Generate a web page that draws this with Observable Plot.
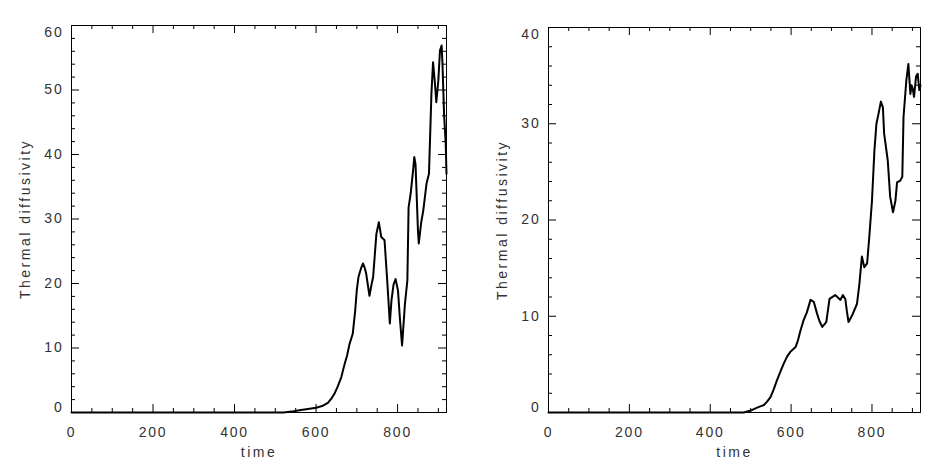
<!DOCTYPE html>
<html><head><meta charset="utf-8">
<script src="https://cdn.jsdelivr.net/npm/d3@7"></script>
<script src="https://cdn.jsdelivr.net/npm/@observablehq/plot@0.6"></script>
<style>
body{margin:0;background:#fff;}
#wrap{display:flex;width:947px;height:475px;}
</style></head><body><div id="wrap"></div>
<script>
const timeA = [0,520,545,563,580,600,615,629,637,645,653,662,670,676,682,690,696,700,704,710,715,719,723,731,736,740,748,754,760,768,775,781,785,790,795,801,806,811,818,824,827,832,838,841,844,850,852,858,863,871,877,883,887,891,895,900,904,908,910,914,918,920];
const valueA = [0,0,0.2,0.4,0.55,0.75,1.0,1.5,2.1,2.9,4.0,5.5,7.5,8.8,10.6,12.2,15.8,19,21,22.3,23.1,22.5,21.5,18.1,19.8,21,27.7,29.5,27.2,26.7,20,13.8,17.4,19.8,20.7,18.9,14.3,10.4,16.8,20.5,31.8,33.9,37.5,39.6,38.5,28.2,26.2,29.5,31.3,35.5,37,49.4,54.3,51.5,48.1,51.5,56.1,56.9,54.3,46.3,41.7,37];
const timeB = [0,483,500,516,532,540,549,557,565,574,582,590,598,611,617,623,631,639,648,656,664,670,677,687,695,709,722,728,734,738,742,751,763,769,775,781,788,794,800,806,811,816,822,827,830,839,845,852,858,862,870,875,878,885,890,895,898,901,904,909,913,917,920];
const valueB = [0,0,0.2,0.5,0.76,1.1,1.6,2.4,3.35,4.3,5.1,5.8,6.3,6.8,7.5,8.5,9.6,10.4,11.7,11.5,10.3,9.5,8.9,9.4,11.8,12.2,11.7,12.2,11.8,10.5,9.4,10.1,11.3,13.4,16.2,15.1,15.5,18.6,22,27.2,30,31,32.3,31.7,29,26.2,22.4,20.8,22,23.9,24.1,24.5,30.7,34.5,36.2,33.1,34,33.6,32.8,34.9,35.2,33.5,34];
const xTicks = [0,200,400,600,800];
const yTicksA = [0,10,20,30,40,50,60];
const yTicksB = [0,10,20,30,40];
const xLabel = "time";
const yLabel = "Thermal diffusivity";

function panel({times, values, yTicks, width, marginLeft, marginRight, marginTop, marginBottom}) {
  const height = 475;
  const yMax = yTicks[yTicks.length - 1];
  const xMax = 920;
  const innerH = height - marginTop - marginBottom;
  const innerW = width - marginLeft - marginRight;
  const data = times.map((t, i) => ({t, v: values[i]}));
  const xMinor = d3.range(0, xMax, 50).filter(d => d % 200 !== 0);
  const xMajor = xTicks;
  const yMinor = d3.range(0, yMax + 0.001, 2).filter(d => d % 10 !== 0);
  const yMajor = yTicks;
  const MJ = 8, MN = 4;
  const tick = {stroke: "#000", strokeWidth: 1};
  const txt = {tickSize: 0, label: null, fill: "#333"};
  return Plot.plot({
    width, height, marginLeft, marginRight, marginTop, marginBottom,
    style: {fontFamily: "Liberation Sans, Arial, sans-serif", fontSize: "14px", letterSpacing: "1.8px", background: "#fff", overflow: "visible"},
    x: {domain: [0, xMax]},
    y: {domain: [0, yMax]},
    marks: [
      Plot.ruleX(xMinor, {x: d => d, insetTop: innerH - MN, ...tick}),
      Plot.ruleX(xMinor, {x: d => d, insetBottom: innerH - MN, ...tick}),
      Plot.ruleX(xMajor, {x: d => d, insetTop: innerH - MJ, ...tick}),
      Plot.ruleX(xMajor, {x: d => d, insetBottom: innerH - MJ, ...tick}),
      Plot.ruleY(yMinor, {y: d => d, insetRight: innerW - MN, ...tick}),
      Plot.ruleY(yMinor, {y: d => d, insetLeft: innerW - MN, ...tick}),
      Plot.ruleY(yMajor, {y: d => d, insetRight: innerW - MJ, ...tick}),
      Plot.ruleY(yMajor, {y: d => d, insetLeft: innerW - MJ, ...tick}),
      Plot.frame({stroke: "#000", strokeWidth: 1}),
      Plot.axisX(xTicks, {...txt, tickPadding: 15}),
      Plot.axisY(yTicks.slice(1, -1), {...txt, tickPadding: 8}),
      Plot.axisY([yTicks[0]], {...txt, tickPadding: 8, dy: -5}),
      Plot.axisY([yMax], {...txt, tickPadding: 8, dy: 7}),
      Plot.line(data, {x: "t", y: "v", stroke: "#000", strokeWidth: 2}),
      Plot.text([xLabel], {text: d => d, frameAnchor: "bottom", textAnchor: "middle", dy: 44, fill: "#333"}),
      Plot.text([yLabel], {text: d => d, frameAnchor: "left", textAnchor: "middle", lineAnchor: "middle", rotate: -90, dx: -46, fill: "#333"})
    ]
  });
}

const wrap = document.getElementById("wrap");
wrap.appendChild(panel({times: timeA, values: valueA, yTicks: yTicksA, width: 473, marginLeft: 71, marginRight: 27, marginTop: 25, marginBottom: 63}));
wrap.appendChild(panel({times: timeB, values: valueB, yTicks: yTicksB, width: 474, marginLeft: 75, marginRight: 27, marginTop: 27, marginBottom: 63}));
// widen axis-title letter spacing to match the reference
document.querySelectorAll("svg g[aria-label='text'] text").forEach(t => t.setAttribute("letter-spacing", "2.5px"));
</script></body></html>
